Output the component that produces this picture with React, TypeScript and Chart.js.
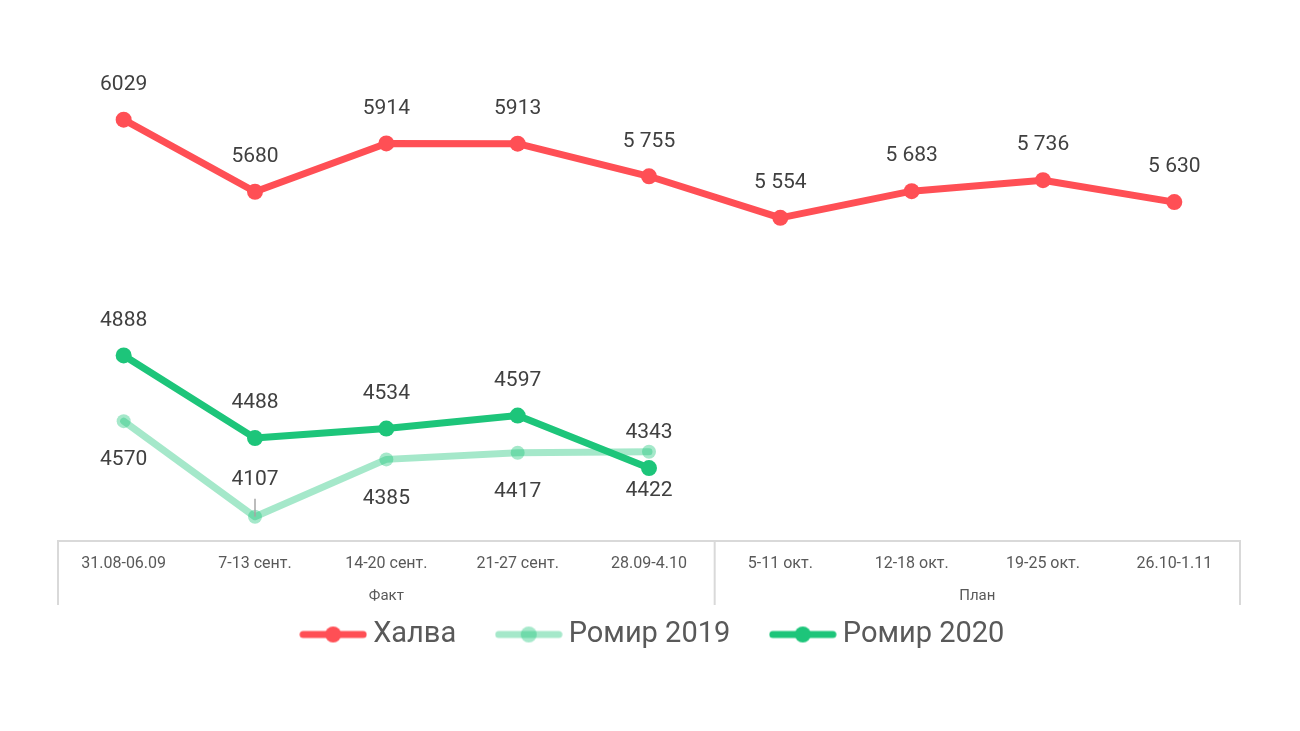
import React, { useEffect, useRef } from 'react';
import { Chart, registerables } from 'chart.js';
import type { Plugin } from 'chart.js';

Chart.register(...registerables);

const weeks = [
  '31.08-06.09',
  '7-13 сент.',
  '14-20 сент.',
  '21-27 сент.',
  '28.09-4.10',
  '5-11 окт.',
  '12-18 окт.',
  '19-25 окт.',
  '26.10-1.11',
];
const groupNames = ['Факт', 'План'];
const groupSizes = [5, 4];

const halva = [6029, 5680, 5914, 5913, 5755, 5554, 5683, 5736, 5630];
const romir2019 = [4570, 4107, 4385, 4417, 4422];
const romir2020 = [4888, 4488, 4534, 4597, 4343];

const RED = '#FF4F55';
const GREEN = '#1DC57A';
const GREEN_LIGHT = 'rgba(29, 197, 122, 0.4)';
const TEXT = '#595959';
const FONT = 'Roboto';

// labels from spacedFrom on are written with a thousands space ("5 755")
const spaced = (v: number) => `${Math.floor(v / 1000)} ${String(v % 1000).padStart(3, '0')}`;

const valueLabels: Plugin<'line'> = {
  id: 'valueLabels',
  afterDatasetsDraw(chart) {
    const { ctx, chartArea } = chart;
    ctx.save();
    ctx.font = `21px ${FONT}`;
    ctx.fillStyle = '#404040';
    ctx.textAlign = 'center';
    ctx.textBaseline = 'middle';
    chart.data.datasets.forEach((ds: any, i) => {
      const meta = chart.getDatasetMeta(i);
      meta.data.forEach((pt, j) => {
        const v = ds.data[j] as number;
        const text = ds.spacedFrom != null && j >= ds.spacedFrom ? spaced(v) : String(v);
        let y = ds.labelBelow ? pt.y + 39 : pt.y - 35;
        if (ds.labelBelow && y + 12 > chartArea.bottom) {
          // no room under the point: put it above with a leader line
          y = pt.y - 37;
          ctx.strokeStyle = '#a6a6a6';
          ctx.lineWidth = 1.5;
          ctx.beginPath();
          ctx.moveTo(pt.x, y + 19);
          ctx.lineTo(pt.x, pt.y);
          ctx.stroke();
        }
        ctx.fillText(text, pt.x, y);
      });
    });
    ctx.restore();
  },
};

const axisGroups: Plugin<'line'> = {
  id: 'axisGroups',
  afterLayout(chart) {
    // the legend sits a little right of the centre in the original
    if (chart.legend) {
      chart.legend.left += 7;
      chart.legend.right += 7;
      chart.legend.top += 2;
      chart.legend.bottom += 2;
    }
  },
  afterDraw(chart) {
    const { ctx, chartArea } = chart;
    const xs = chart.scales.x;
    const half = (xs.getPixelForValue(1) - xs.getPixelForValue(0)) / 2;
    const top = chartArea.bottom;
    const bottom = chartArea.bottom + 64;
    ctx.save();
    ctx.strokeStyle = '#d9d9d9';
    ctx.lineWidth = 2;
    ctx.font = `15px ${FONT}`;
    ctx.fillStyle = TEXT;
    ctx.textAlign = 'center';
    ctx.textBaseline = 'middle';
    let start = 0;
    groupNames.forEach((name, gi) => {
      const end = start + groupSizes[gi] - 1;
      const left = xs.getPixelForValue(start) - half;
      const right = xs.getPixelForValue(end) + half;
      if (gi === 0) {
        ctx.beginPath();
        ctx.moveTo(left, top);
        ctx.lineTo(left, bottom);
        ctx.stroke();
      }
      ctx.beginPath();
      ctx.moveTo(right, top);
      ctx.lineTo(right, bottom);
      ctx.stroke();
      ctx.fillText(name, (left + right) / 2, top + 55);
      start = end + 1;
    });
    ctx.restore();
  },
};

const makeMarker = (color: string) => {
  const c = document.createElement('canvas');
  c.width = 68;
  c.height = 18;
  const g = c.getContext('2d')!;
  g.strokeStyle = color;
  g.lineWidth = 7;
  g.lineCap = 'round';
  g.beginPath();
  g.moveTo(4, 9);
  g.lineTo(64, 9);
  g.stroke();
  g.fillStyle = color;
  g.beginPath();
  g.arc(34, 9, 8, 0, Math.PI * 2);
  g.fill();
  return c;
};

const WeeklyChart: React.FC = () => {
  const canvasRef = useRef<HTMLCanvasElement>(null);
  const chartRef = useRef<Chart | null>(null);

  useEffect(() => {
    document.body.style.margin = '0';
    if (!canvasRef.current) return;
    const ctx = canvasRef.current.getContext('2d');
    if (!ctx) return;
    if (chartRef.current) chartRef.current.destroy();

    const markers = [makeMarker(RED), makeMarker(GREEN_LIGHT), makeMarker(GREEN)];

    chartRef.current = new Chart(ctx, {
      type: 'line',
      data: {
        labels: weeks,
        datasets: [
          {
            label: 'Халва',
            data: halva,
            borderColor: RED,
            backgroundColor: RED,
            borderWidth: 7,
            pointRadius: 8,
            pointBorderWidth: 0,
            order: 0,
            spacedFrom: 4,
          } as any,
          {
            label: 'Ромир 2019',
            data: romir2019,
            borderColor: GREEN_LIGHT,
            backgroundColor: GREEN_LIGHT,
            borderWidth: 7,
            pointRadius: 7,
            pointBorderWidth: 0,
            order: 2,
            labelBelow: true,
          } as any,
          {
            label: 'Ромир 2020',
            data: romir2020,
            borderColor: GREEN,
            backgroundColor: GREEN,
            borderWidth: 7,
            pointRadius: 8,
            pointBorderWidth: 0,
            order: 1,
          } as any,
        ],
      },
      options: {
        animation: false,
        responsive: true,
        maintainAspectRatio: false,
        layout: { padding: { left: 58, right: 60, top: 43, bottom: 74 } },
        elements: { line: { tension: 0, borderCapStyle: 'round', borderJoinStyle: 'round' } },
        plugins: {
          tooltip: { enabled: false },
          legend: {
            position: 'bottom',
            labels: {
              usePointStyle: true,
              pointStyleWidth: 51,
              padding: 47,
              color: TEXT,
              font: { family: FONT, size: 29 },
              generateLabels: (chart) =>
                chart.data.datasets.map((ds, i) => ({
                  text: ds.label as string,
                  pointStyle: markers[i],
                  fillStyle: 'transparent',
                  strokeStyle: 'transparent',
                  lineWidth: 0,
                  hidden: false,
                  datasetIndex: i,
                  fontColor: TEXT,
                })),
            },
          },
        },
        scales: {
          x: {
            offset: true,
            grid: { display: false, drawTicks: false },
            border: { display: true, color: '#d9d9d9', width: 2 },
            ticks: {
              color: TEXT,
              font: { family: FONT, size: 16 },
              padding: 13,
              maxRotation: 0,
              autoSkip: false,
            },
            afterFit: (scale) => {
              scale.height = 30;
            },
          },
          y: { display: false, min: 3990, max: 6400 },
        },
      } as any,
      plugins: [valueLabels, axisGroups],
    });

    return () => chartRef.current?.destroy();
  }, []);

  return (
    <div style={{ width: 1300, height: 731, position: 'relative', background: '#fff' }}>
      <canvas ref={canvasRef}></canvas>
    </div>
  );
};

export default function App() {
  return <WeeklyChart />;
}
